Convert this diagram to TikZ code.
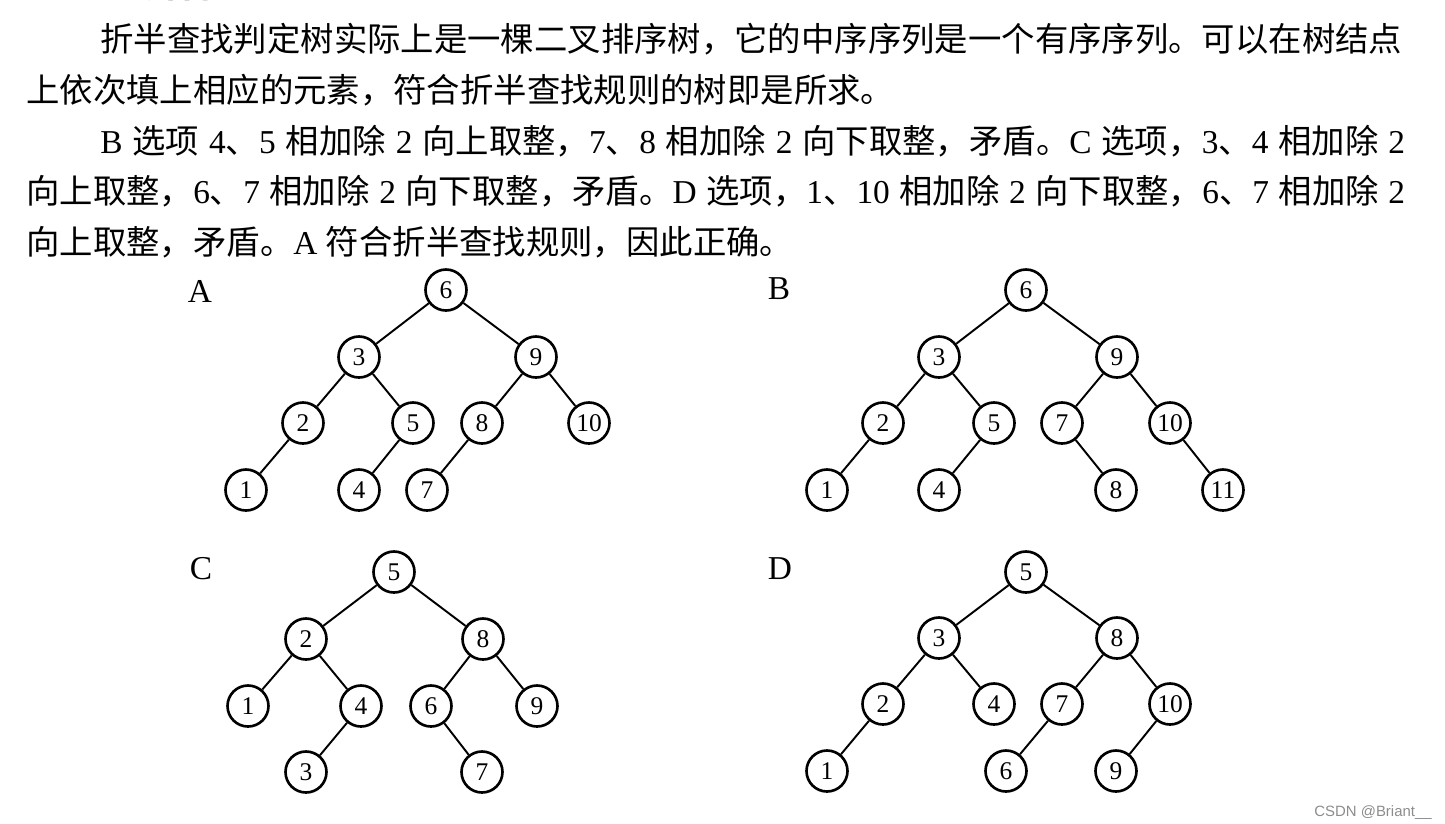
\documentclass[tikz,border=0pt]{standalone}
\usepackage{fontspec}
\setmainfont{Liberation Serif}
\newfontfamily\cjk{Noto Sans CJK SC}
\newfontfamily\wmfont{Liberation Sans}
\usetikzlibrary{positioning}

\XeTeXlinebreaklocale "zh"
\XeTeXlinebreakskip=0pt plus 2pt minus 0.3pt
\newcommand{\zh}[1]{{\cjk #1}}

\begin{document}
\begin{tikzpicture}[
        x=0.02cm, y=-0.02cm,
        vtx/.style={circle, draw=black, line width=1.5pt, minimum size=0.82cm, inner sep=0pt, font=\fontsize{14.5}{14.5}\selectfont},
        edge/.style={draw=black, line width=1.1pt},
        optlabel/.style={inner sep=0pt, font=\fontsize{19}{19}\selectfont},
        textline/.style={anchor=base west, inner sep=0pt, font=\fontsize{19}{23}\selectfont},
        wm/.style={anchor=base east, inner sep=0pt, text=black!45, font=\wmfont\fontsize{8.5}{10}\selectfont}
        ]
        \useasboundingbox (0,0) rectangle (1445,823);

        % Explanation text
        \node[textline] (head) at (102,-3) {\bfseries 5.\hspace{0.55em}\zh{解析}};
        \node[textline] (line1) at (100,51) {\hbox to 26.14cm{\zh{折半查找判定树实际上是一棵二叉排序树，它的中序序列是一个有序序列。可以在树结点}}};
        \node[textline] (line2) at (26,102) {\zh{上依次填上相应的元素，符合折半查找规则的树即是所求。}};
        \node[textline] (line3) at (100,153) {\hbox to 26.1cm{B \zh{选项} 4\zh{、}5 \zh{相加除} 2 \zh{向上取整，}7\zh{、}8 \zh{相加除} 2 \zh{向下取整，矛盾。}C \zh{选项，}3\zh{、}4 \zh{相加除} 2}};
        \node[textline] (line4) at (26,203) {\hbox to 27.58cm{\zh{向上取整，}6\zh{、}7 \zh{相加除} 2 \zh{向下取整，矛盾。}D \zh{选项，}1\zh{、}10 \zh{相加除} 2 \zh{向下取整，}6\zh{、}7 \zh{相加除} 2}};
        \node[textline] (line5) at (26,254) {\zh{向上取整，矛盾。}A \zh{符合折半查找规则，因此正确。}};

        % Tree A
        \node[optlabel] (labA) at (200,291) {A};
        \node[vtx] (a6) at (446,290) {6};
        \node[vtx] (a3) at (359,357) {3};
        \node[vtx] (a9) at (536,357) {9};
        \node[vtx] (a2) at (303,423) {2};
        \node[vtx] (a5) at (413,423) {5};
        \node[vtx] (a8) at (482,423) {8};
        \node[vtx] (a10) at (589,423) {10};
        \node[vtx] (a1) at (246,490) {1};
        \node[vtx] (a4) at (359,490) {4};
        \node[vtx] (a7) at (427,490) {7};
        \draw[edge] (a6) -- (a3); \draw[edge] (a6) -- (a9);
        \draw[edge] (a3) -- (a2); \draw[edge] (a3) -- (a5);
        \draw[edge] (a9) -- (a8); \draw[edge] (a9) -- (a10);
        \draw[edge] (a2) -- (a1); \draw[edge] (a5) -- (a4);
        \draw[edge] (a8) -- (a7);

        % Tree B
        \node[optlabel] (labB) at (779,289) {B};
        \node[vtx] (b6) at (1026,290) {6};
        \node[vtx] (b3) at (939,357) {3};
        \node[vtx] (b9) at (1117,357) {9};
        \node[vtx] (b2) at (883,423) {2};
        \node[vtx] (b5) at (994,423) {5};
        \node[vtx] (b7) at (1062,423) {7};
        \node[vtx] (b10) at (1170,423) {10};
        \node[vtx] (b1) at (827,490) {1};
        \node[vtx] (b4) at (939,490) {4};
        \node[vtx] (b8) at (1116,490) {8};
        \node[vtx] (b11) at (1223,490) {11};
        \draw[edge] (b6) -- (b3); \draw[edge] (b6) -- (b9);
        \draw[edge] (b3) -- (b2); \draw[edge] (b3) -- (b5);
        \draw[edge] (b9) -- (b7); \draw[edge] (b9) -- (b10);
        \draw[edge] (b2) -- (b1); \draw[edge] (b5) -- (b4);
        \draw[edge] (b7) -- (b8); \draw[edge] (b10) -- (b11);

        % Tree C
        \node[optlabel] (labC) at (201,569) {C};
        \node[vtx] (c5) at (394,572) {5};
        \node[vtx] (c2) at (306,639) {2};
        \node[vtx] (c8) at (483,639) {8};
        \node[vtx] (c1) at (248,706) {1};
        \node[vtx] (c4) at (361,706) {4};
        \node[vtx] (c6) at (431,706) {6};
        \node[vtx] (c9) at (537,706) {9};
        \node[vtx] (c3) at (306,772) {3};
        \node[vtx] (c7) at (482,772) {7};
        \draw[edge] (c5) -- (c2); \draw[edge] (c5) -- (c8);
        \draw[edge] (c2) -- (c1); \draw[edge] (c2) -- (c4);
        \draw[edge] (c8) -- (c6); \draw[edge] (c8) -- (c9);
        \draw[edge] (c4) -- (c3); \draw[edge] (c6) -- (c7);

        % Tree D
        \node[optlabel] (labD) at (780,569) {D};
        \node[vtx] (d5) at (1026,572) {5};
        \node[vtx] (d3) at (939,638) {3};
        \node[vtx] (d8) at (1117,638) {8};
        \node[vtx] (d2) at (883,704) {2};
        \node[vtx] (d4) at (994,704) {4};
        \node[vtx] (d7) at (1062,704) {7};
        \node[vtx] (d10) at (1170,704) {10};
        \node[vtx] (d1) at (827,771) {1};
        \node[vtx] (d6) at (1006,771) {6};
        \node[vtx] (d9) at (1116,771) {9};
        \draw[edge] (d5) -- (d3); \draw[edge] (d5) -- (d8);
        \draw[edge] (d3) -- (d2); \draw[edge] (d3) -- (d4);
        \draw[edge] (d8) -- (d7); \draw[edge] (d8) -- (d10);
        \draw[edge] (d2) -- (d1); \draw[edge] (d7) -- (d6);
        \draw[edge] (d10) -- (d9);

        % Watermark
        \node[wm] (mark) at (1432,816) {CSDN @Briant\_\_};
    \end{tikzpicture}
\end{document}
